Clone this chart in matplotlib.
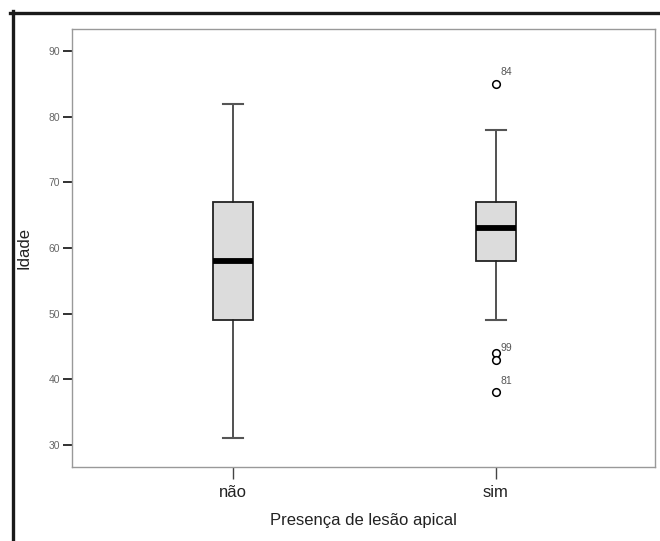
import matplotlib.pyplot as plt
from matplotlib.lines import Line2D

plt.rcParams['font.family'] = ['Liberation Sans', 'DejaVu Sans']

# data
categories = ["não", "sim"]
q1 = [49, 58]
medians = [58, 63]
q3 = [67, 67]
whisker_low = [31, 49]
whisker_high = [82, 78]
outliers = [[], [85, 44, 43, 38]]
outlier_labels = [[], ["84", "", "99", "81"]]

fig = plt.figure(figsize=(6.6, 5.41), dpi=100)
ax = fig.add_axes([72 / 660, 1 - 467 / 541, 583 / 660, 438 / 541])

stats = []
for i, name in enumerate(categories):
    stats.append({
        "label": name,
        "q1": q1[i], "med": medians[i], "q3": q3[i],
        "whislo": whisker_low[i], "whishi": whisker_high[i],
        "fliers": outliers[i],
    })

positions = [1, 2]
ax.bxp(stats, positions=positions, widths=0.152, capwidths=0.076,
       patch_artist=True, showfliers=True,
       boxprops=dict(facecolor="#dcdcdc", edgecolor="#222222", linewidth=1.3),
       medianprops=dict(color="black", linewidth=4.2, solid_capstyle="butt"),
       whiskerprops=dict(color="#222222", linewidth=1.1),
       capprops=dict(color="#555555", linewidth=1.5),
       flierprops=dict(marker="o", markersize=5.5, markerfacecolor="white",
                       markeredgecolor="black", markeredgewidth=1.1))

for pos, vals, labs in zip(positions, outliers, outlier_labels):
    for v, lab in zip(vals, labs):
        if lab:
            ax.annotate(lab, (pos, v), xytext=(3.5, 6), textcoords="offset points",
                        fontsize=7.5, color="#555555")

ax.set_xlim(0.388, 2.605)
ax.set_ylim(26.65, 93.35)
ax.set_yticks([30, 40, 50, 60, 70, 80, 90])
ax.set_xticks(positions)
ax.set_xticklabels(categories)

for s in ax.spines.values():
    s.set_color("#999999")
    s.set_linewidth(1.0)

ax.tick_params(axis="y", length=6.3, width=1.3, color="#222222",
               labelsize=7.5, labelcolor="#666666", pad=2.5)
ax.tick_params(axis="x", length=8.5, width=1.0, color="#444444",
               labelsize=12, labelcolor="#222222", pad=4.5)

ax.set_ylabel("Idade", fontsize=12, color="#222222")
ax.yaxis.set_label_coords((32 - 72) / 583, 0.5)
ax.set_xlabel("Presença de lesão apical", fontsize=12, color="#222222", labelpad=9)

# outer frame (top and left) like the source image
fig.add_artist(Line2D([10 / 660, 1], [1 - 12.5 / 541, 1 - 12.5 / 541],
                      color="#1a1a1a", linewidth=2.4, transform=fig.transFigure))
fig.add_artist(Line2D([12.5 / 660, 12.5 / 660], [0, 1 - 11 / 541],
                      color="#1a1a1a", linewidth=2.4, transform=fig.transFigure))

fig.savefig("out.png", dpi=100)
